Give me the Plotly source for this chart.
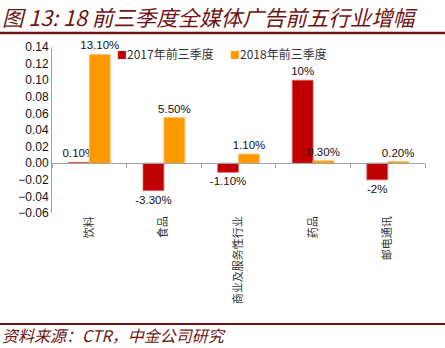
import plotly.graph_objects as go

categories = ["饮料", "食品", "商业及服务性行业", "药品", "邮电通讯"]
values_2017 = [0.001, -0.033, -0.011, 0.10, -0.02]
values_2018 = [0.131, 0.055, 0.011, 0.003, 0.002]
labels_2017 = ["0.10%", "-3.30%", "-1.10%", "10%", "-2%"]
labels_2018 = ["13.10%", "5.50%", "1.10%", "0.30%", "0.20%"]
series_names = ["2017年前三季度", "2018年前三季度"]
series_colors = ["#C00000", "#FF9900"]
y_ticks = [0.14, 0.12, 0.10, 0.08, 0.06, 0.04, 0.02, 0.00, -0.02, -0.04, -0.06]

TITLE_COLOR = "#6E1414"
CJK = "Noto Sans CJK SC"
Y_MIN, Y_MAX = -0.06, 0.14
PW, PH = 373, 166  # plot area size in px

fig = go.Figure()
fig.add_trace(go.Bar(
    x=categories, y=values_2017, name=series_names[0],
    marker=dict(color=series_colors[0], line=dict(color="#E06666", width=0.8)),
    text=labels_2017, textposition="outside", cliponaxis=False, constraintext="none",
    textfont=dict(family="Arial", size=11.5, color="#111111"), showlegend=False,
))
fig.add_trace(go.Bar(
    x=categories, y=values_2018, name=series_names[1],
    marker=dict(color=series_colors[1], line=dict(color="#FFC070", width=0.8)),
    text=labels_2018, textposition="outside", cliponaxis=False, constraintext="none",
    textfont=dict(family="Arial", size=11.5, color="#111111"), showlegend=False,
))
# invisible trace to drive the zero-crossing category axis
fig.add_trace(go.Scatter(
    x=categories, y=[0] * len(categories), xaxis="x2", yaxis="y",
    mode="markers", marker=dict(opacity=0), showlegend=False, hoverinfo="skip",
))

zero_pos = (0 - Y_MIN) / (Y_MAX - Y_MIN)

legend_annos = []
legend_x = [115, 228]
for name, color, lx in zip(series_names, series_colors, legend_x):
    legend_annos.append(dict(
        text=f'<span style="color:{color};font-size:10px">■</span>{name}',
        xref="paper", yref="paper", x=(lx - 52) / PW, y=1 - (54 - 47) / PH,
        xanchor="left", yanchor="middle", showarrow=False,
        font=dict(family=CJK, size=12, color="#333333"),
    ))

fig.update_layout(
    width=445, height=348,
    margin=dict(l=52, r=20, t=47, b=135),
    paper_bgcolor="white", plot_bgcolor="white",
    barmode="group", bargap=0.44, bargroupgap=0,
    showlegend=False,
    xaxis=dict(
        type="category", categoryorder="array", categoryarray=categories,
        showline=False, ticks="", tickangle=-90,
        tickfont=dict(family=CJK, size=11, color="#333333"),
        showgrid=False, zeroline=False,
    ),
    xaxis2=dict(
        type="category", categoryorder="array", categoryarray=categories,
        matches="x", overlaying="x", anchor="free", position=zero_pos,
        showline=True, linecolor="#A0A0A0", linewidth=1,
        ticks="outside", tickson="boundaries", ticklen=4, tickcolor="#A0A0A0",
        showticklabels=False, showgrid=False, zeroline=False,
    ),
    yaxis=dict(
        range=[Y_MIN, Y_MAX], tickvals=y_ticks, tickformat=".2f",
        showline=True, linecolor="#A0A0A0", linewidth=1,
        ticks="", showgrid=False, zeroline=False,
        tickfont=dict(family="Arial", size=12, color="#111111"),
    ),
    annotations=[
        dict(text="图 13: 18 前三季度全媒体广告前五行业增幅", xref="paper", yref="paper",
             x=-52 / PW, y=1 + (47 - 17) / PH, xanchor="left", yanchor="middle",
             showarrow=False,
             font=dict(family=CJK, size=21.5, color=TITLE_COLOR, style="italic")),
        dict(text="资料来源：CTR，中金公司研究", xref="paper", yref="paper",
             x=-52 / PW, y=-(335 - 213) / PH, xanchor="left", yanchor="middle",
             showarrow=False,
             font=dict(family=CJK, size=16, color=TITLE_COLOR, style="italic")),
    ] + legend_annos,
    shapes=[
        dict(type="line", xref="paper", yref="paper",
             x0=-52 / PW, x1=(445 - 52) / PW, y0=1 + (47 - 33) / PH, y1=1 + (47 - 33) / PH,
             line=dict(color=TITLE_COLOR, width=2.5)),
        dict(type="line", xref="paper", yref="paper",
             x0=-52 / PW, x1=(445 - 52) / PW, y0=-(324 - 213) / PH, y1=-(324 - 213) / PH,
             line=dict(color=TITLE_COLOR, width=2)),
    ],
)

fig.write_html("out.html")
